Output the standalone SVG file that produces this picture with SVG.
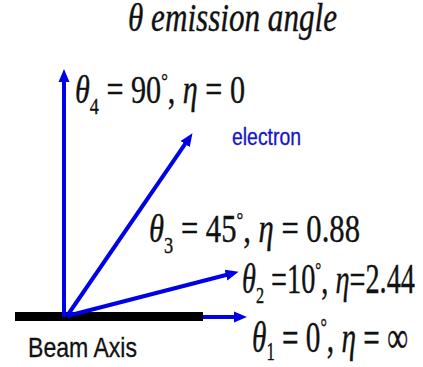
<svg xmlns="http://www.w3.org/2000/svg" width="423" height="367" viewBox="0 0 423 367">
<style>
.m{font-family:"Liberation Serif","Times New Roman",serif;fill:#111;stroke:#111;stroke-width:0.4}
.i{font-style:italic}
.s{font-family:"Liberation Sans",Arial,sans-serif}
.arr{stroke:#0000e6;stroke-width:4;fill:none}
</style>
<defs>
<marker id="ah" viewBox="0 -6 14 12" refX="1" refY="0" markerWidth="14" markerHeight="12" markerUnits="userSpaceOnUse" orient="auto">
<path d="M0,-5.5 L13,0 L0,5.5 z" fill="#0000e6"/>
</marker>
</defs>
<rect width="423" height="367" fill="#fff"/>
<g id="title"><text class="m i" x="128" y="31" font-size="41" textLength="209" lengthAdjust="spacingAndGlyphs">θ emission angle</text></g>
<g id="beam"><rect x="15" y="312" width="188" height="9" fill="#000"/>
<text class="s" x="28" y="357" font-size="28" fill="#111" stroke="#111" stroke-width="0.3" textLength="109" lengthAdjust="spacingAndGlyphs">Beam Axis</text></g>
<g id="connectors">
<line class="arr" x1="64" y1="317" x2="64" y2="81" marker-end="url(#ah)"/>
<line class="arr" x1="67" y1="316" x2="185.7" y2="143.2" marker-end="url(#ah)"/>
<line class="arr" x1="67" y1="316" x2="227" y2="274.8" marker-end="url(#ah)"/>
<line class="arr" x1="203" y1="317" x2="235" y2="317" marker-end="url(#ah)"/>
</g>
<g id="electron"><text class="s" x="232" y="145" font-size="23" fill="#1414c8" stroke="#1414c8" stroke-width="0.3" textLength="69" lengthAdjust="spacingAndGlyphs">electron</text></g>
<g id="theta4"><text class="m" x="75" y="103" font-size="40" textLength="170" lengthAdjust="spacingAndGlyphs"><tspan class="i">θ</tspan><tspan font-size="24" dy="11">4</tspan><tspan dy="-11"> = 90</tspan><tspan font-size="22" dy="-15">°</tspan><tspan dy="15">, </tspan><tspan class="i">η</tspan> = 0</text></g>
<g id="theta3"><text class="m" x="149" y="242" font-size="40" textLength="211" lengthAdjust="spacingAndGlyphs"><tspan class="i">θ</tspan><tspan font-size="24" dy="11">3</tspan><tspan dy="-11"> = 45</tspan><tspan font-size="22" dy="-15">°</tspan><tspan dy="15">, </tspan><tspan class="i">η</tspan> = 0.88</text></g>
<g id="theta2"><text class="m" x="242" y="293" font-size="42" textLength="173" lengthAdjust="spacingAndGlyphs"><tspan class="i">θ</tspan><tspan font-size="24" dy="10">2</tspan><tspan dy="-10"> =10</tspan><tspan font-size="22" dy="-16">°</tspan><tspan dy="16">, </tspan><tspan class="i">η</tspan>=2.44</text></g>
<g id="theta1"><text class="m" x="252" y="352" font-size="44" textLength="156" lengthAdjust="spacingAndGlyphs"><tspan class="i">θ</tspan><tspan font-size="25" dy="8">1</tspan><tspan dy="-8"> = 0</tspan><tspan font-size="24" dy="-17">°</tspan><tspan dy="17">, </tspan><tspan class="i">η</tspan> = ∞</text></g>
</svg>
